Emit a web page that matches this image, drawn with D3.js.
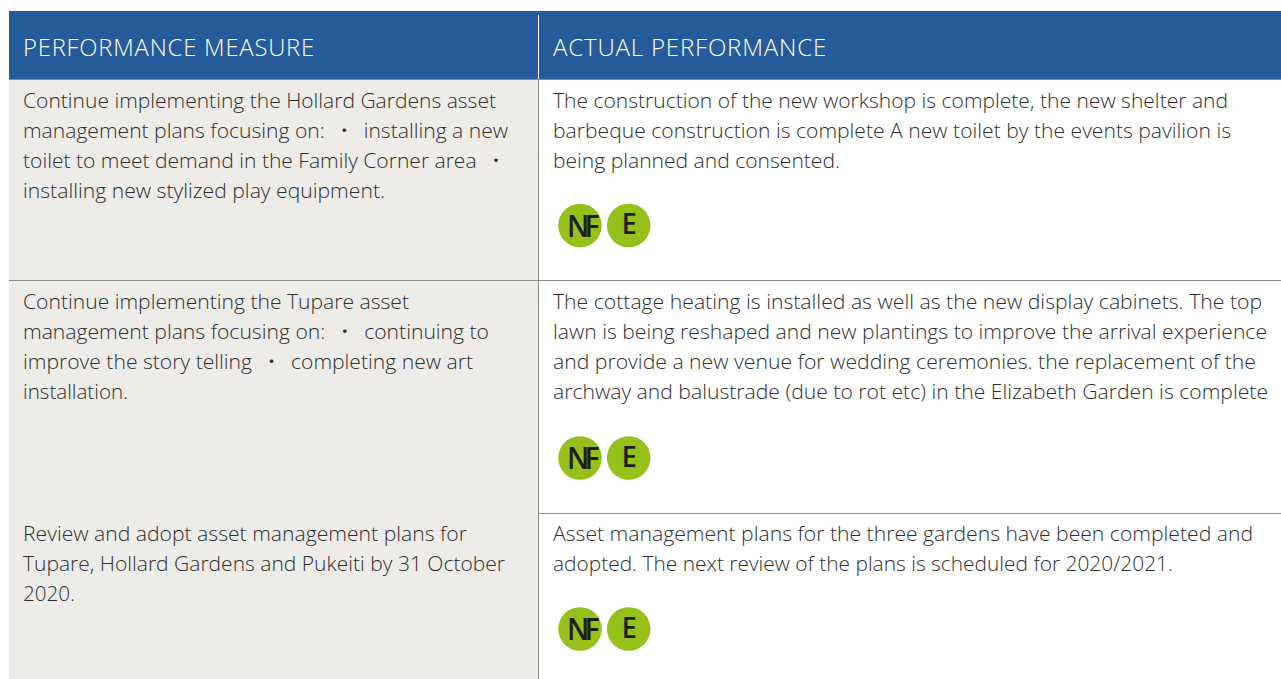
<!DOCTYPE html>
<html>
<head>
<meta charset="utf-8">
<script src="https://cdn.jsdelivr.net/npm/d3@7"></script>
<style>
  html, body { margin: 0; padding: 0; background: #fff; overflow: hidden; }
  text { font-family: "Open Sans", sans-serif; white-space: pre; }
</style>
</head>
<body>
<div id="chart"></div>
<script>
var headers = ["PERFORMANCE MEASURE", "ACTUAL PERFORMANCE"];

var measures = [
  ["Continue implementing the Hollard Gardens asset",
   "management plans focusing on:   \u00B7   installing a new",
   "toilet to meet demand in the Family Corner area   \u00B7",
   "installing new stylized play equipment."],
  ["Continue implementing the Tupare asset",
   "management plans focusing on:   \u00B7   continuing to",
   "improve the story telling   \u00B7   completing new art",
   "installation."],
  ["Review and adopt asset management plans for",
   "Tupare, Hollard Gardens and Pukeiti by 31 October",
   "2020."]
];

var actuals = [
  ["The construction of the new workshop is complete, the new shelter and",
   "barbeque construction is complete A new toilet by the events pavilion is",
   "being planned and consented."],
  ["The cottage heating is installed as well as the new display cabinets. The top",
   "lawn is being reshaped and new plantings to improve the arrival experience",
   "and provide a new venue for wedding ceremonies. the replacement of the",
   "archway and balustrade (due to rot etc) in the Elizabeth Garden is complete"],
  ["Asset management plans for the three gardens have been completed and",
   "adopted. The next review of the plans is scheduled for 2020/2021."]
];

var badges = ["NF", "E"];

// measured widths of the lines, text gets fitted to them
var measureWidths = [
  [473, 485, 476, 362],
  [386, 466, 450, 105],
  [444, 482, 52]
];
var actualWidths = [
  [675, 678, 287],
  [709, 714, 703, 715],
  [700, 620]
];

var baselines = [108, 309, 541];
var badgeY = [225.5, 458, 629];
var width = 1281, height = 679;

var svg = d3.select("#chart").append("svg")
    .attr("width", width)
    .attr("height", height)
    .style("display", "block");

// backgrounds
svg.append("rect").attr("x", 9).attr("y", 80).attr("width", 529).attr("height", 599).attr("fill", "#edecE8");
svg.append("rect").attr("x", 9).attr("y", 11).attr("width", 1272).attr("height", 68).attr("fill", "#265b9b");

// rules
svg.append("line").attr("x1", 9).attr("x2", 1281).attr("y1", 79.5).attr("y2", 79.5).attr("stroke", "#8b8b8b");
svg.append("line").attr("x1", 538.5).attr("x2", 538.5).attr("y1", 15).attr("y2", 79).attr("stroke", "#fff");
svg.append("line").attr("x1", 538.5).attr("x2", 538.5).attr("y1", 80).attr("y2", 679).attr("stroke", "#8b8b8b");
svg.append("line").attr("x1", 9).attr("x2", 1281).attr("y1", 280.5).attr("y2", 280.5).attr("stroke", "#8b8b8b");
svg.append("line").attr("x1", 538).attr("x2", 1281).attr("y1", 513.5).attr("y2", 513.5).attr("stroke", "#8b8b8b");

// header
svg.selectAll("text.head").data(headers).enter().append("text")
    .attr("class", "head")
    .attr("x", function(d, i) { return i ? 553 : 23; })
    .attr("y", 56)
    .attr("fill", "#fff")
    .attr("font-size", 24)
    .attr("font-weight", 300)
    .attr("letter-spacing", 0.8)
    .attr("textLength", function(d, i) { return i ? 274 : 292; })
    .attr("lengthAdjust", "spacingAndGlyphs")
    .text(function(d) { return d; });

function block(lines, widths, x, y) {
  var t = svg.append("g").selectAll("text").data(lines).enter().append("text")
      .attr("x", x)
      .attr("y", function(d, i) { return y + i * 30; })
      .attr("fill", "#2f2f2f")
      .attr("font-size", 21)
      .attr("font-weight", 300)
      .attr("textLength", function(d, i) { return widths[i]; })
      .attr("lengthAdjust", "spacingAndGlyphs");
  // the bullets are heavier than the words round them
  t.selectAll("tspan")
      .data(function(d) { return d.split(/(\u00B7)/); })
      .enter().append("tspan")
      .attr("font-weight", function(d) { return d === "\u00B7" ? 700 : null; })
      .text(function(d) { return d; });
}

measures.forEach(function(lines, i) {
  block(lines, measureWidths[i], 23, baselines[i]);
});
actuals.forEach(function(lines, i) {
  block(lines, actualWidths[i], 553, baselines[i]);
});

// badges
badgeY.forEach(function(y) {
  var g = svg.append("g").selectAll("g").data(badges).enter().append("g")
      .attr("transform", function(d, i) { return "translate(" + (580 + i * 48.7) + "," + y + ")"; });
  g.append("circle").attr("r", 21.8).attr("fill", "#95c11a");
  g.append("text")
      .attr("x", function(d) { return d === "NF" ? -13 : -7; })
      .attr("y", function(d) { return d === "NF" ? 11 : 8.5; })
      .attr("fill", "#1d1d1b")
      .attr("font-size", function(d) { return d === "NF" ? 30 : 28; })
      .attr("font-weight", 600)
      .attr("letter-spacing", function(d) { return d === "NF" ? -5 : 0; })
      .attr("textLength", function(d) { return d === "NF" ? 28 : 15; })
      .attr("lengthAdjust", "spacingAndGlyphs")
      .text(function(d) { return d; });
});
</script>
</body>
</html>
